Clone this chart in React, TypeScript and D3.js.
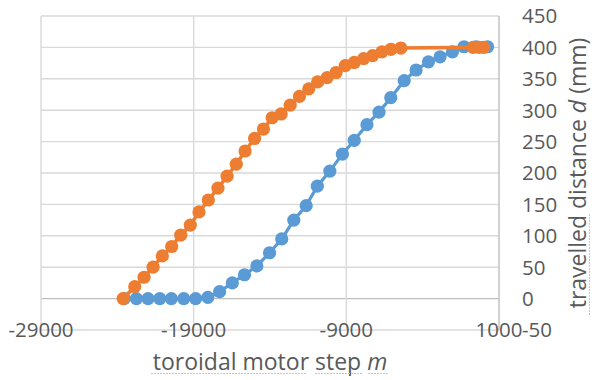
import React from "react";
import * as d3 from "d3";

const orangeX = [-23620, -22860, -22250, -21660, -21050, -20440, -19850, -19220, -18650, -18040, -17410, -16810, -16210, -15630, -15010, -14430, -13860, -13270, -12680, -12070, -11460, -10880, -10260, -9670, -9070, -8480, -7870, -7280, -6670, -6080, -5430, -700, -300, 0];
const orangeY = [0, 19, 34, 50, 68, 83, 101, 117, 138, 157, 176, 195, 214, 235, 255, 270, 288, 294, 308, 322, 334, 345, 352, 360, 371, 376, 382, 387, 393, 397, 399, 400, 400, 400];

const blueX = [-23550, -22750, -21990, -21220, -20460, -19650, -18870, -18070, -17300, -16470, -15670, -14860, -14030, -13230, -12440, -11630, -10900, -10080, -9260, -8480, -7650, -6860, -6090, -5210, -4430, -3620, -2860, -2050, -1290, -500, 250];
const blueY = [0, 0, 0, 0, 0, 0, 0, 2, 11, 25, 38, 52, 73, 95, 125, 148, 179, 203, 230, 252, 277, 297, 320, 347, 364, 377, 385, 393, 401, 401, 401];

const xTicks = [-29000, -19000, -9000, 1000];
const yTicks = [-50, 0, 50, 100, 150, 200, 250, 300, 350, 400, 450];

const W = 592;
const H = 380;
const FONT = "'Open Sans', 'Noto Sans', sans-serif";
const TXT = "#595959";

export default function App() {
  const x = d3.scaleLinear().domain([-29000, 1000]).range([41, 499]);
  const y = d3.scaleLinear().domain([-50, 450]).range([330, 16]);

  const line = d3
    .line<[number, number]>()
    .x((d) => x(d[0]))
    .y((d) => y(d[1]));

  const blue: [number, number][] = blueX.map((v, i) => [v, blueY[i]]);
  const orange: [number, number][] = orangeX.map((v, i) => [v, orangeY[i]]);

  const [x0, x1] = x.range();
  const [y0, y1] = y.range();

  return (
    <svg
      width={W}
      height={H}
      style={{ position: "absolute", left: 0, top: 0, background: "#fff" }}
      fontFamily={FONT}
    >
      {/* grid */}
      {yTicks.map((t) => (
        <line
          key={"h" + t}
          x1={x0}
          x2={x1}
          y1={y(t)}
          y2={y(t)}
          stroke={t === 0 ? "#bfbfbf" : "#d9d9d9"}
          strokeWidth={1.4}
        />
      ))}
      {xTicks.map((t) => (
        <line
          key={"v" + t}
          x1={x(t)}
          x2={x(t)}
          y1={y1}
          y2={y0}
          stroke={t === 1000 ? "#bfbfbf" : "#d9d9d9"}
          strokeWidth={1.4}
        />
      ))}

      {/* blue series */}
      <path d={line(blue) || ""} fill="none" stroke="#5B9BD5" strokeWidth={3.2} />
      {blue.map((d, i) => (
        <circle key={"b" + i} cx={x(d[0])} cy={y(d[1])} r={6.6} fill="#5B9BD5" />
      ))}

      {/* orange series */}
      <path d={line(orange) || ""} fill="none" stroke="#ED7D31" strokeWidth={3.6} />
      {orange.map((d, i) => (
        <circle key={"o" + i} cx={x(d[0])} cy={y(d[1])} r={6.6} fill="#ED7D31" />
      ))}

      {/* x tick labels */}
      {xTicks.map((t) => (
        <text
          key={"xt" + t}
          x={x(t)}
          y={y(-50)}
          dy="0.36em"
          textAnchor="middle"
          fontSize={20.5}
          fill={TXT}
        >
          {t}
        </text>
      ))}

      {/* y tick labels (right side) */}
      {yTicks.map((t) => (
        <text
          key={"yt" + t}
          x={522}
          y={y(t)}
          dy="0.36em"
          textAnchor="start"
          fontSize={20.5}
          fill={TXT}
        >
          {t}
        </text>
      ))}

      {/* x title */}
      <text x={270} y={370} textAnchor="middle" fontSize={23} fill={TXT}>
        toroidal motor step <tspan fontStyle="italic">m</tspan>
      </text>
      <line x1={151} x2={307} y1={373.5} y2={373.5} stroke="#f4b6b6" strokeWidth={1} strokeDasharray="2,1" />
      <line x1={315} x2={362} y1={373.5} y2={373.5} stroke="#f4b6b6" strokeWidth={1} strokeDasharray="2,1" />
      <line x1={368} x2={388} y1={373.5} y2={373.5} stroke="#f4b6b6" strokeWidth={1} strokeDasharray="2,1" />

      {/* y title */}
      <text
        transform={`translate(586,${(y0 + y1) / 2}) rotate(-90)`}
        textAnchor="middle"
        fontSize={23}
        fill={TXT}
      >
        travelled distance <tspan fontStyle="italic">d</tspan> (mm)
      </text>
      <line x1={589.5} x2={589.5} y1={214} y2={315} stroke="#f4b6b6" strokeWidth={1} strokeDasharray="2,1" />
    </svg>
  );
}
